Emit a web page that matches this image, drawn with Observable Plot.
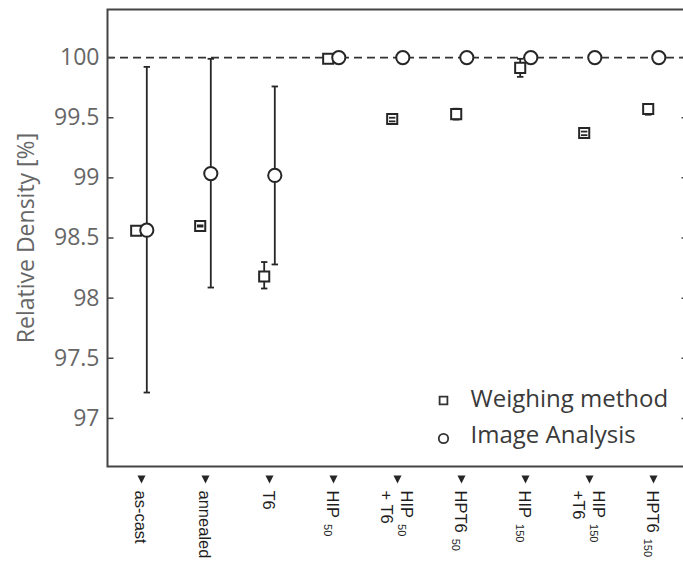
<!DOCTYPE html>
<html><head><meta charset="utf-8">
<script src="https://cdn.jsdelivr.net/npm/d3@7"></script>
<script src="https://cdn.jsdelivr.net/npm/@observablehq/plot@0.6"></script>
<style>html,body{margin:0;padding:0;overflow:hidden;background:#fff}</style>
</head><body><div id="chart"></div>
<script>
// ---- data ----
const categories = ["as-cast","annealed","T6","HIP50","HIP50+T6","HPT6 50","HIP150","HIP150+T6","HPT6 150"];
const tickLabels = ["as-cast","annealed","T6","HIP_50","HIP_50\n+ T6","HPT6_50","HIP_150","HIP_150\n+T6","HPT6_150"];
const weighing   = [98.56, 98.60, 98.18, 99.99, 99.49, 99.53, 99.915, 99.373, 99.573];
const weighingLo = [null,  98.595, 98.08, null, 99.47, 99.485, 99.84, 99.355, 99.525];
const weighingHi = [null,  98.605, 98.30, null, 99.50, 99.575, 99.99, 99.385, 99.615];
const imageVal   = [98.565, 99.036, 99.02, 100, 100, 100, 100, 100, 100];
const imageLo    = [97.215, 98.088, 98.28, null, null, null, null, null, null];
const imageHi    = [99.923, 99.99, 99.76, null, null, null, null, null, null];
const yTicks = [97, 97.5, 98, 98.5, 99, 99.5, 100];
const seriesNames = ["Weighing method", "Image Analysis"];
const yTitle = "Relative Density [%]";
const fullDensity = [100];

// ---- tables ----
const rows = categories.map((c, i) => ({cat: c, w: weighing[i], wLo: weighingLo[i], wHi: weighingHi[i],
  im: imageVal[i], iLo: imageLo[i], iHi: imageHi[i]}));
const wErr = rows.filter(d => d.wLo != null);
const iErr = rows.filter(d => d.iLo != null);

// custom symbols
const hline = {draw(ctx, size) { const r = Math.sqrt(size / Math.PI); ctx.moveTo(-r, 0); ctx.lineTo(r, 0); }};
const tickIn = {draw(ctx, size) { const r = Math.sqrt(size / Math.PI); ctx.moveTo(0, 0); ctx.lineTo(r, 0); }};
const tickInR = {draw(ctx, size) { const r = Math.sqrt(size / Math.PI); ctx.moveTo(0, 0); ctx.lineTo(-r, 0); }};
const triDown = {draw(ctx, size) { const r = Math.sqrt(size / Math.PI); ctx.moveTo(-r, -r); ctx.lineTo(r, -r); ctx.lineTo(0, r); ctx.closePath(); }};

const ink = "#262626";
const off = 5.3;

const chart = Plot.plot({
  width: 683, height: 562,
  marginLeft: 107, marginTop: 9, marginBottom: 96, marginRight: -4,
  style: {fontFamily: "'Open Sans', sans-serif", background: "white"},
  x: {type: "point", domain: categories, range: [138.8, 655.6], padding: 0, axis: null},
  y: {domain: [96.6, 100.4]},
  marks: [
    Plot.ruleY(fullDensity, {stroke: "#333", strokeWidth: 1.6, strokeDasharray: "8,5"}),
    Plot.ruleX(wErr, {x: "cat", y1: "wLo", y2: "wHi", dx: -off, stroke: ink, strokeWidth: 1.8}),
    Plot.ruleX(iErr, {x: "cat", y1: "iLo", y2: "iHi", dx: off, stroke: ink, strokeWidth: 1.8}),
    Plot.dot(rows, {x: "cat", y: "w", symbol: "square", r: 5.7, fill: "white", stroke: ink, strokeWidth: 2, dx: -off}),
    Plot.dot(rows, {x: "cat", y: "im", symbol: "circle", r: 6.6, fill: "white", stroke: ink, strokeWidth: 2, dx: off}),
    Plot.dot(wErr, {x: "cat", y: "wLo", symbol: hline, r: 3.2, fill: "none", stroke: ink, strokeWidth: 1.8, dx: -off}),
    Plot.dot(wErr, {x: "cat", y: "wHi", symbol: hline, r: 3.2, fill: "none", stroke: ink, strokeWidth: 1.8, dx: -off}),
    Plot.dot(iErr, {x: "cat", y: "iLo", symbol: hline, r: 3.2, fill: "none", stroke: ink, strokeWidth: 1.8, dx: off}),
    Plot.dot(iErr, {x: "cat", y: "iHi", symbol: hline, r: 3.2, fill: "none", stroke: ink, strokeWidth: 1.8, dx: off}),
    Plot.dot(yTicks, {y: d => d, frameAnchor: "left", symbol: tickIn, r: 6, fill: "none", stroke: "#444", strokeWidth: 1.5}),
    Plot.dot(yTicks, {y: d => d, frameAnchor: "right", symbol: tickInR, r: 6, fill: "none", stroke: "#444", strokeWidth: 1.5}),
    Plot.frame({stroke: "#444", strokeWidth: 2}),
    Plot.axisY({ticks: yTicks, tickSize: 0, tickPadding: 8, fontSize: 23, color: "#666", label: null, tickFormat: d => String(d)}),
    Plot.text([yTitle], {frameAnchor: "left", textAnchor: "middle", lineAnchor: "middle", rotate: -90, dx: -81, fontSize: 23, fill: "#666"}),
    Plot.dot(categories, {x: d => d, frameAnchor: "bottom", dy: 13, symbol: triDown, r: 4, fill: ink, stroke: "none"}),
    Plot.text(categories, {x: d => d, text: (d, i) => tickLabels[i], frameAnchor: "bottom", dy: 24, rotate: 90,
      textAnchor: "start", lineAnchor: "middle", lineHeight: 1.25, fontSize: 16.5, fill: "#1e1e1e",
      fontFamily: "'Liberation Sans', Arial, sans-serif"}),
    // legend
    Plot.dot([seriesNames[0]], {frameAnchor: "bottom-left", dx: 336, dy: -66, symbol: "square", r: 4.4, fill: "white", stroke: "#333", strokeWidth: 1.8}),
    Plot.dot([seriesNames[1]], {frameAnchor: "bottom-left", dx: 336, dy: -28, symbol: "circle", r: 4.7, fill: "white", stroke: "#333", strokeWidth: 1.8}),
    Plot.text([seriesNames[0]], {frameAnchor: "bottom-left", dx: 363, dy: -66.7, textAnchor: "start", lineAnchor: "middle", fontSize: 24, fill: "#3a3a3a"}),
    Plot.text([seriesNames[1]], {frameAnchor: "bottom-left", dx: 363, dy: -30.7, textAnchor: "start", lineAnchor: "middle", fontSize: 24, fill: "#3a3a3a"})
  ]
});
document.getElementById("chart").appendChild(chart);

// subscripts in category labels (marked with "_")
const SVGNS = "http://www.w3.org/2000/svg";
chart.querySelectorAll("text").forEach(t => {
  if (!t.textContent.includes("_")) return;
  const spans = Array.from(t.querySelectorAll("tspan"));
  const targets = spans.length ? spans : [t];
  targets.forEach(el => {
    const s = el.textContent;
    if (!s.includes("_")) return;
    const [base, sub] = s.split("_");
    el.textContent = base;
    const ts = document.createElementNS(SVGNS, "tspan");
    ts.setAttribute("font-size", "11");
    ts.setAttribute("baseline-shift", "-3");
    ts.setAttribute("dx", "6");
    ts.textContent = sub;
    el.appendChild(ts);
  });
});
</script></body></html>
